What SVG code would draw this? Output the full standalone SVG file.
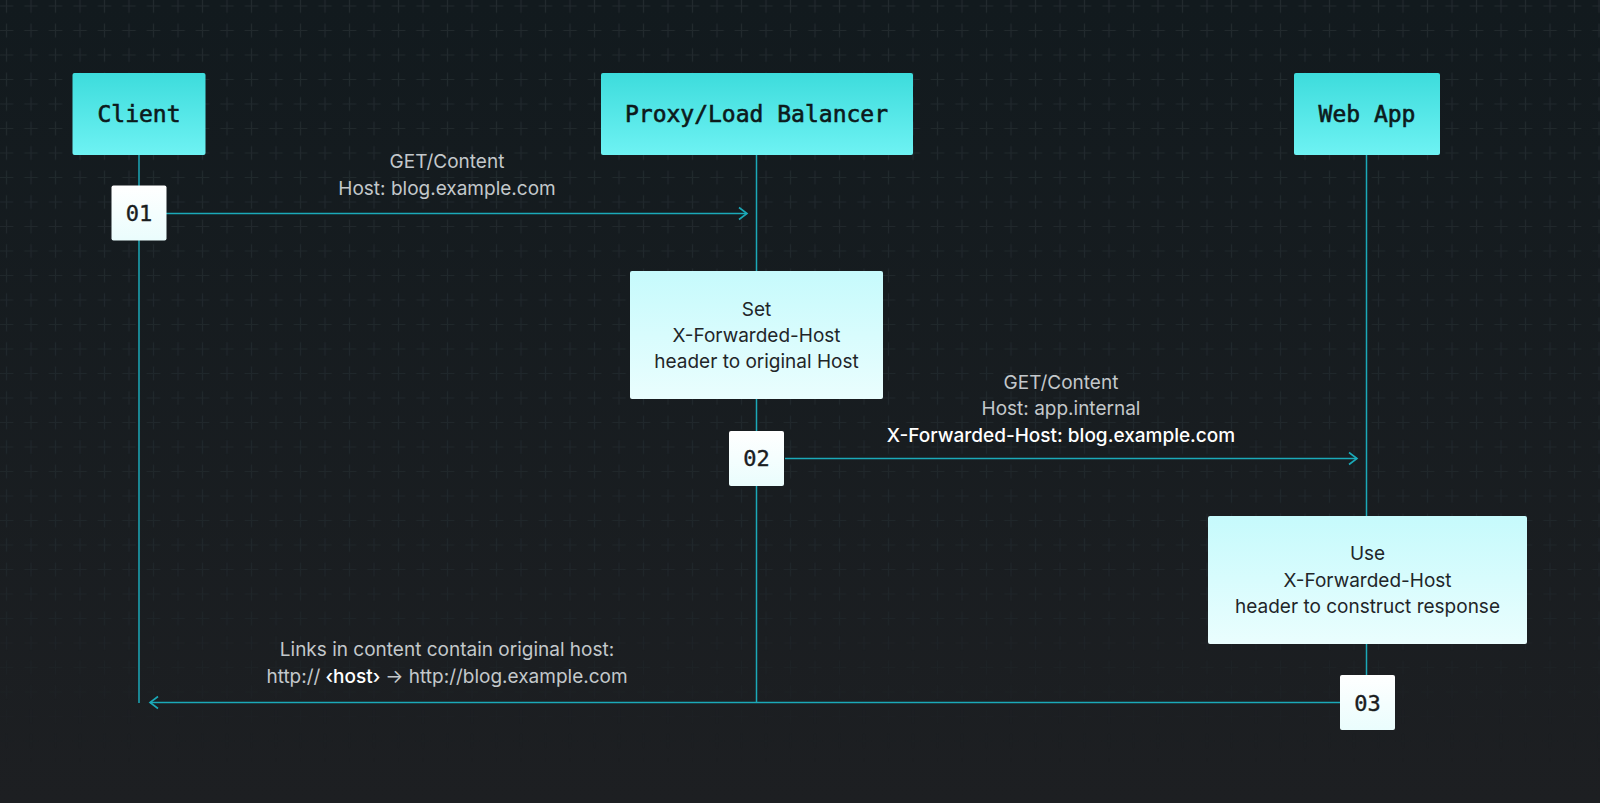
<svg xmlns="http://www.w3.org/2000/svg" width="1600" height="803" viewBox="0 0 1600 803">
<defs>
<linearGradient id="bg" x1="0" y1="0" x2="0" y2="1">
<stop offset="0" stop-color="#121a1e"/>
<stop offset="1" stop-color="#1d1f22"/>
</linearGradient>
<linearGradient id="hdr" x1="0" y1="0" x2="0" y2="1">
<stop offset="0" stop-color="#3ddcdc"/>
<stop offset="1" stop-color="#6ef2f3"/>
</linearGradient>
<linearGradient id="act" x1="0" y1="0" x2="0" y2="1">
<stop offset="0" stop-color="#c6fafc"/>
<stop offset="1" stop-color="#eafefe"/>
</linearGradient>
<linearGradient id="num" x1="0" y1="0" x2="0" y2="1">
<stop offset="0" stop-color="#ffffff"/>
<stop offset="1" stop-color="#eafdfd"/>
</linearGradient>
<linearGradient id="fade" x1="0" y1="0" x2="0" y2="1">
<stop offset="0" stop-color="#fff" stop-opacity="1"/>
<stop offset="0.7" stop-color="#fff" stop-opacity="0.75"/>
<stop offset="0.95" stop-color="#fff" stop-opacity="0"/>
</linearGradient>
<mask id="gridmask"><rect width="1600" height="803" fill="url(#fade)"/></mask>
<pattern id="grid" patternUnits="userSpaceOnUse" x="-5.75" y="-6.25" width="24.5" height="24.5">
<path d="M12.25 5.5V19M5.5 12.25H19" stroke="#222a2e" stroke-width="1.2" fill="none"/>
</pattern>
<marker id="arr" viewBox="0 0 12 16" refX="10" refY="8" markerWidth="12" markerHeight="16" markerUnits="userSpaceOnUse" orient="auto-start-reverse">
<path d="M2 2L10 8L2 14" fill="none" stroke="#1ba9b8" stroke-width="1.6"/>
</marker>
<style>
.life{stroke:#1ba9b8;stroke-width:1.5;fill:none}
.msg{stroke:#1ba9b8;stroke-width:1.5;fill:none}
.hdrtxt{font-family:"DejaVu Sans Mono","Liberation Mono",monospace;font-size:23px;fill:#0c1a1c;stroke:#0c1a1c;stroke-width:0.6;text-anchor:middle}
.numtxt{font-family:"DejaVu Sans Mono","Liberation Mono",monospace;font-size:22px;fill:#1a1d1f;stroke:#1a1d1f;stroke-width:0.4;text-anchor:middle}
.boxtxt{font-family:Inter,"Noto Sans",sans-serif;font-size:19px;fill:#1f2629;text-anchor:middle}
.lbl{font-family:Inter,"Noto Sans",sans-serif;font-size:19px;fill:#c3c8cb;text-anchor:middle}
.hl{fill:#ffffff;font-weight:500}
</style>
</defs>
<rect width="1600" height="803" fill="url(#bg)"/>
<rect width="1600" height="803" fill="url(#grid)" mask="url(#gridmask)"/>

<g id="connectors">
<line class="life" x1="139" y1="154" x2="139" y2="703"/>
<line class="life" x1="756.5" y1="154" x2="756.5" y2="703"/>
<line class="life" x1="1366.5" y1="154" x2="1366.5" y2="703"/>
<line class="msg" x1="166" y1="213.5" x2="747" y2="213.5" marker-end="url(#arr)"/>
<line class="msg" x1="785" y1="458.5" x2="1357" y2="458.5" marker-end="url(#arr)"/>
<line class="msg" x1="1340" y1="702.5" x2="150" y2="702.5" marker-end="url(#arr)"/>
</g>

<g id="client">
<rect x="72.5" y="73" width="133" height="82" rx="2" fill="url(#hdr)"/>
<text class="hdrtxt" x="139" y="122">Client</text>
</g>
<g id="proxy">
<rect x="601" y="73" width="312" height="82" rx="2" fill="url(#hdr)"/>
<text class="hdrtxt" x="756.5" y="122">Proxy/Load Balancer</text>
</g>
<g id="webapp">
<rect x="1294" y="73" width="146" height="82" rx="2" fill="url(#hdr)"/>
<text class="hdrtxt" x="1367" y="122">Web App</text>
</g>

<g id="set-header">
<rect x="630" y="271" width="253" height="128" rx="2" fill="url(#act)"/>
<text class="boxtxt" x="756.5" y="316">Set</text>
<text class="boxtxt" x="756.5" y="342">X-Forwarded-Host</text>
<text class="boxtxt" x="756.5" y="368">header to original Host</text>
</g>
<g id="use-header">
<rect x="1208" y="516" width="319" height="128" rx="2" fill="url(#act)"/>
<text class="boxtxt" x="1367.5" y="560">Use</text>
<text class="boxtxt" x="1367.5" y="587">X-Forwarded-Host</text>
<text class="boxtxt" x="1367.5" y="613">header to construct response</text>
</g>

<g id="step01">
<rect x="111.5" y="185.5" width="55" height="55" rx="2" fill="url(#num)"/>
<text class="numtxt" x="139" y="221">01</text>
</g>
<g id="step02">
<rect x="729" y="431" width="55" height="55" rx="2" fill="url(#num)"/>
<text class="numtxt" x="756.5" y="466">02</text>
</g>
<g id="step03">
<rect x="1340" y="675" width="55" height="55" rx="2" fill="url(#num)"/>
<text class="numtxt" x="1367.5" y="711">03</text>
</g>

<g id="labels">
<text class="lbl" x="447" y="168">GET/Content</text>
<text class="lbl" x="447" y="195">Host: blog.example.com</text>
<text class="lbl" x="1061" y="389">GET/Content</text>
<text class="lbl" x="1061" y="415">Host: app.internal</text>
<text class="lbl hl" x="1061" y="442">X-Forwarded-Host: blog.example.com</text>
<text class="lbl" x="447" y="656">Links in content contain original host:</text>
<text class="lbl" x="447" y="683">http://<tspan class="hl" font-weight="600"> ‹host› </tspan>→ http://blog.example.com</text>
</g>
</svg>
